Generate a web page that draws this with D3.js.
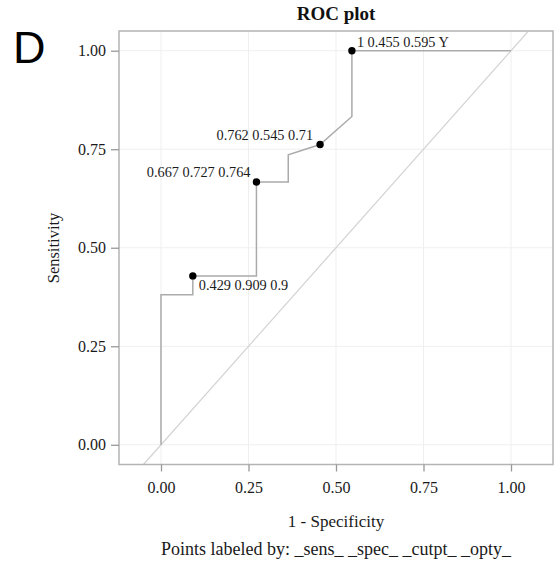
<!DOCTYPE html>
<html><head><meta charset="utf-8">
<script src="https://cdn.jsdelivr.net/npm/d3@7"></script>
<style>body{margin:0;background:#fff;} svg{display:block;}</style>
</head><body><svg id="c" width="558" height="562"></svg>
<script>
// ROC curve vertices (1 - specificity, sensitivity)
const rocX = [0, 0, 0.0909, 0.0909, 0.2727, 0.2727, 0.3636, 0.3636, 0.4545, 0.5454, 0.5454, 1.0];
const rocY = [0, 0.381, 0.381, 0.4286, 0.4286, 0.6667, 0.6667, 0.736, 0.7619, 0.833, 1.0, 1.0];
// labelled points
const ptX = [0.0909, 0.2727, 0.4545, 0.5454];
const ptY = [0.4286, 0.6667, 0.7619, 1.0];
const ptLabels = ["0.429 0.909 0.9", "0.667 0.727 0.764", "0.762 0.545 0.71", "1 0.455 0.595 Y"];
const ptAnchor = ["start", "end", "end", "start"];
const ptDx = [6, -6, -7, 5];
const ptDy = [14, -5, -5, -4];
const xTicks = [0, 0.25, 0.5, 0.75, 1.0];
const yTicks = [0, 0.25, 0.5, 0.75, 1.0];
const refLine = [-0.05, 1.05];

const svg = d3.select("#c");
const x = d3.scaleLinear().domain([-0.12, 1.12]).range([119, 553]);
const y = d3.scaleLinear().domain([-0.05, 1.05]).range([464.5, 31]);
const serif = "'Liberation Serif','Times New Roman',serif";

const clipId = "pc";
svg.append("clipPath").attr("id", clipId).append("rect")
  .attr("x", 119).attr("y", 31).attr("width", 434).attr("height", 433.5);

// gridlines
svg.append("g").selectAll("line").data(xTicks).join("line")
  .attr("x1", d => x(d)).attr("x2", d => x(d)).attr("y1", 31).attr("y2", 464.5)
  .attr("stroke", "#efefef").attr("stroke-width", 1);
svg.append("g").selectAll("line").data(yTicks).join("line")
  .attr("y1", d => y(d)).attr("y2", d => y(d)).attr("x1", 119).attr("x2", 553)
  .attr("stroke", "#efefef").attr("stroke-width", 1);

// reference diagonal
svg.append("line").attr("clip-path", `url(#${clipId})`)
  .attr("x1", x(refLine[0])).attr("y1", y(refLine[0]))
  .attr("x2", x(refLine[1])).attr("y2", y(refLine[1]))
  .attr("stroke", "#d2d2d2").attr("stroke-width", 1.2);

// ROC curve
const line = d3.line().x(d => x(d[0])).y(d => y(d[1]));
svg.append("path").datum(rocX.map((v, i) => [v, rocY[i]]))
  .attr("d", line).attr("fill", "none").attr("stroke", "#ababab").attr("stroke-width", 1.5);

// frame
svg.append("rect").attr("x", 119).attr("y", 31).attr("width", 434).attr("height", 433.5)
  .attr("fill", "none").attr("stroke", "#b4b4b4").attr("stroke-width", 1.5);

// axes
const xAxis = svg.append("g").attr("transform", "translate(0,464.5)")
  .call(d3.axisBottom(x).tickValues(xTicks).tickFormat(d3.format(".2f")).tickSize(7).tickPadding(10));
const yAxis = svg.append("g").attr("transform", "translate(119,0)")
  .call(d3.axisLeft(y).tickValues(yTicks).tickFormat(d3.format(".2f")).tickSize(8).tickPadding(5));
[xAxis, yAxis].forEach(g => {
  g.select(".domain").remove();
  g.selectAll(".tick line").attr("stroke", "#999").attr("stroke-width", 1.3);
  g.selectAll(".tick text").attr("font-family", serif).attr("font-size", 16).attr("fill", "#1a1a1a");
});

// points
svg.append("g").selectAll("circle").data(ptX).join("circle")
  .attr("cx", d => x(d)).attr("cy", (d, i) => y(ptY[i])).attr("r", 3.7).attr("fill", "#000");
svg.append("g").selectAll("text").data(ptLabels).join("text")
  .attr("x", (d, i) => x(ptX[i]) + ptDx[i]).attr("y", (d, i) => y(ptY[i]) + ptDy[i])
  .attr("text-anchor", (d, i) => ptAnchor[i])
  .attr("font-family", serif).attr("font-size", 14.3).attr("fill", "#1a1a1a").text(d => d);

// titles
svg.append("text").attr("x", 336).attr("y", 20).attr("text-anchor", "middle")
  .attr("font-family", serif).attr("font-weight", "bold").attr("font-size", 19).attr("fill", "#111").text("ROC plot");
svg.append("text").attr("x", 336).attr("y", 527).attr("text-anchor", "middle")
  .attr("font-family", serif).attr("font-size", 17).attr("fill", "#1a1a1a").text("1 - Specificity");
svg.append("text").attr("x", 336).attr("y", 555).attr("text-anchor", "middle")
  .attr("font-family", serif).attr("font-size", 18).attr("fill", "#1a1a1a").text("Points labeled by: _sens_ _spec_ _cutpt_ _opty_");
svg.append("text").attr("transform", "translate(59,248) rotate(-90)").attr("text-anchor", "middle")
  .attr("font-family", serif).attr("font-size", 16.5).attr("fill", "#1a1a1a").text("Sensitivity");
svg.append("text").attr("x", 13).attr("y", 63)
  .attr("font-family", "'Liberation Sans',Arial,sans-serif").attr("font-size", 45).attr("fill", "#000").text("D");
</script></body></html>
